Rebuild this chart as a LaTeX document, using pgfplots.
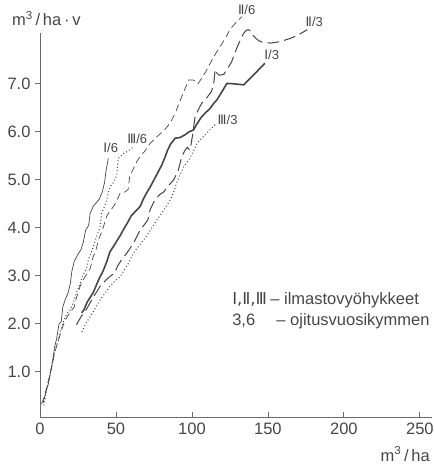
\documentclass[border=0pt]{standalone}
\usepackage{pgfplots}
\pgfplotsset{compat=1.18}
\usepackage{fontspec}
\setmainfont{Liberation Sans}
\newfontfamily\dejavu{DejaVu Sans}
\definecolor{ink}{HTML}{464646}
\definecolor{axc}{HTML}{6A6A6A}
\newcommand{\bigf}{\fontsize{16.5}{19}\selectfont}
\newcommand{\smf}{\fontsize{13}{15}\selectfont}
\begin{document}
\begin{tikzpicture}
\begin{axis}[
  name=ax,
  scale only axis, width=392pt, height=384pt,
  xmin=0, xmax=258, ymin=0.06, ymax=8.06,
  axis lines=left, axis line style={-, axc, line width=0.8pt},
  clip=false,
  xtick={0,50,100,150,200,250},
  ytick={1,2,3,4,5,6,7},
  xtick align=inside, ytick align=outside,
  major tick length=5pt,
  tick style={axc, line width=0.8pt},
  /pgf/number format/assume math mode=true,
  tick label style={font=\bigf, text=ink},
  yticklabel style={xshift=-1pt, /pgf/number format/.cd, fixed, fixed zerofill, precision=1},
  xticklabel style={yshift=-2pt},
]
% I/6 thin solid
\addplot[ink, line width=0.7pt] coordinates {
(2,0.35)(4,0.6)(5.5,0.75)(7,1.0)(8.5,1.25)(9.5,1.5)(11,1.7)(12.5,2.0)(14,2.05)(15,2.35)(16.5,2.5)(18.5,2.65)(20,2.85)(21,3.1)(22.5,3.3)(25,3.45)(27,3.55)(28.5,3.7)(30,3.95)(32,4.05)(33,4.3)(35,4.45)(37,4.52)(39,4.6)(41,4.75)(42.5,4.95)(43.5,5.2)(45,5.45)};
% III/6 dotted
\addplot[ink, line width=1.1pt, dash pattern=on 0.9pt off 2.4pt] coordinates {
(2.5,0.3)(4.5,0.65)(6,0.85)(7.5,1.1)(9,1.35)(10.5,1.5)(12,1.65)(13.5,1.85)(15.5,2.05)(17.5,2.2)(20,2.3)(22,2.45)(24,2.65)(26,2.8)(28,3.0)(30.5,3.15)(32,3.35)(34,3.5)(35.5,3.65)(37.5,3.85)(39.5,4.0)(40.5,4.3)(42.5,4.45)(44,4.6)(46,4.85)(48.5,4.95)(50.5,5.1)(51.5,5.45)(55,5.55)(58,5.6)(62,5.7)};
% II/6 short dashed
\addplot[ink, line width=0.7pt, dash pattern=on 7pt off 4pt] coordinates {
(1,0.33)(3,0.5)(5,0.75)(7,1.0)(9,1.3)(11,1.55)(13,1.75)(15,1.95)(17,2.1)(20,2.25)(22.5,2.35)(24,2.55)(26,2.75)(28,2.9)(31,3.05)(33,3.15)(35,3.4)(36.5,3.5)(38.5,3.75)(41,3.95)(42,4.05)(44,4.25)(46,4.35)(48.5,4.45)(51,4.6)(52.7,4.72)(56,4.75)(58,4.8)(59,5.07)(61,5.2)(63.7,5.38)(66,5.49)(69,5.6)(72.5,5.76)(77,5.9)(82,6.04)(86,6.2)(89,6.39)(91,6.55)(93.4,6.74)(95.5,6.9)(97.8,7.08)(101,7.08)(104,7.0)(106,7.1)(109,7.25)(112,7.43)(115,7.6)(118.6,7.78)(122,7.95)(125,8.13)(129,8.28)(133,8.4)};
% II/3 long dashed
\addplot[ink, line width=1.0pt, dash pattern=on 12pt off 5pt] coordinates {
(24,1.98)(27,2.15)(30.5,2.3)(35,2.55)(39.5,2.78)(43,2.9)(46,2.99)(49,3.05)(51,3.2)(54,3.35)(57,3.47)(61.5,3.68)(66,3.96)(69,4.08)(71,4.17)(72.5,4.38)(75.5,4.58)(79,4.7)(81.5,4.75)(84,4.86)(88,5.0)(91,5.2)(93.4,5.49)(95.5,5.62)(97,5.68)(98.5,5.62)(99.5,5.75)(100.5,5.95)(102,6.3)(104,6.45)(106.5,6.6)(110,6.72)(113,6.85)(114.5,7.05)(115.2,7.3)(116.5,7.22)(118,7.18)(121,7.2)(123,7.3)(126,7.45)(128,7.62)(130,7.78)(132,7.93)(134,8.05)(135.5,8.11)(137,8.13)(138.5,8.1)(140,8.02)(142,7.95)(144,7.9)(147,7.86)(152,7.85)(158,7.88)(165,7.95)(170,8.02)(176,8.13)};
% I/3 thick solid
\addplot[ink, line width=1.6pt] coordinates {
(27.5,2.23)(29,2.3)(31,2.45)(33,2.55)(35,2.65)(37,2.8)(39,2.95)(41.5,3.1)(44,3.3)(46,3.5)(48.5,3.62)(51,3.75)(53,3.85)(55,3.97)(57.5,4.1)(60,4.25)(63,4.35)(66,4.45)(68,4.6)(70,4.72)(72.5,4.85)(75,5.0)(77.5,5.15)(80,5.3)(82,5.45)(84,5.62)(86,5.75)(89,5.87)(92,5.88)(95.5,5.94)(98,6.0)(101,6.04)(103,6.15)(106,6.3)(109,6.4)(112,6.49)(114,6.58)(116.5,6.67)(120,6.85)(123,7.01)(128,7.0)(134,6.98)(141,7.2)(148,7.43)};
% III/3 dotted
\addplot[ink, line width=1.1pt, dash pattern=on 0.9pt off 2.4pt] coordinates {
(27.6,1.83)(30,2.0)(33,2.15)(36,2.3)(39.6,2.5)(43,2.65)(46,2.78)(49,2.88)(52.7,2.98)(55,3.1)(58,3.25)(62,3.5)(65,3.62)(67.5,3.72)(71.4,3.89)(74,4.02)(77,4.17)(80,4.3)(82.5,4.42)(85.7,4.58)(88,4.75)(89.5,4.9)(92.3,5.12)(95,5.3)(98,5.42)(101,5.6)(103.3,5.76)(106,5.85)(109,5.95)(112,6.05)(115.4,6.15)};
% curve labels
\node[font=\smf, text=ink] at (axis cs:46.5,5.66) {{\dejavu Ⅰ}/6};
\node[font=\smf, text=ink] at (axis cs:64,5.86) {{\dejavu Ⅲ}/6};
\node[font=\smf, text=ink] at (axis cs:136,8.55) {{\dejavu Ⅱ}/6};
\node[font=\smf, text=ink] at (axis cs:180.5,8.3) {{\dejavu Ⅱ}/3};
\node[font=\smf, text=ink] at (axis cs:152.5,7.6) {{\dejavu Ⅰ}/3};
\node[font=\smf, text=ink] at (axis cs:123.5,6.25) {{\dejavu Ⅲ}/3};
% legend text
\node[font=\bigf, text=ink, anchor=base west, inner sep=0pt] at (axis cs:126.4,2.4) {{\dejavu Ⅰ,Ⅱ,Ⅲ}};
\node[font=\bigf, text=ink, anchor=base west, inner sep=0pt] at (axis cs:151.5,2.4) {– ilmastovyöhykkeet};
\node[font=\bigf, text=ink, anchor=base west, inner sep=0pt] at (axis cs:126.4,1.97) {3,6};
\node[font=\bigf, text=ink, anchor=base west, inner sep=0pt] at (axis cs:155.5,1.97) {– ojitusvuosikymmen};
% axis unit labels
\node[font=\bigf, text=ink, anchor=base west, inner sep=0pt] at ([xshift=-28pt,yshift=7pt]rel axis cs:0,1) {m\textsuperscript{3}\,/\,ha\,·\,v};
\node[font=\bigf, text=ink, anchor=base east, inner sep=0pt] at ([xshift=-2pt,yshift=-44pt]rel axis cs:1,0) {m\textsuperscript{3}\,/\,ha};
\end{axis}
\pgfresetboundingbox
\path[use as bounding box] ([shift={(-40pt,-50pt)}]ax.south west) rectangle ([shift={(2pt,33pt)}]ax.north east);
\end{tikzpicture}
\end{document}
